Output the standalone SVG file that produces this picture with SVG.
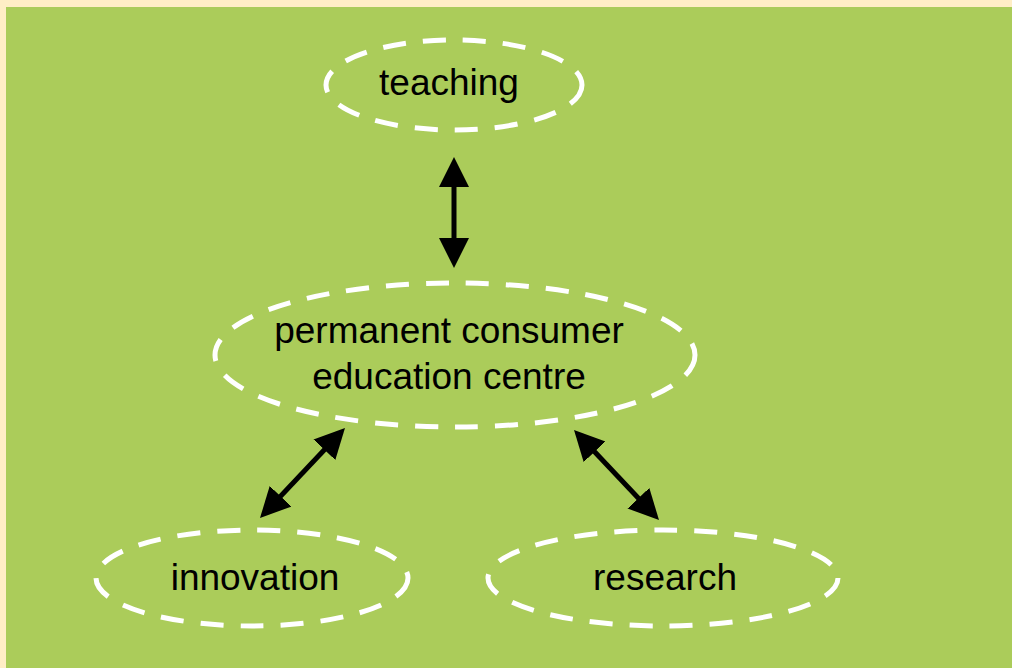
<svg xmlns="http://www.w3.org/2000/svg" width="1012" height="668" viewBox="0 0 1012 668">
<style>
.node ellipse{fill:none;stroke:#fff;stroke-width:5;stroke-dasharray:23 17}
.node text{font-family:"Liberation Sans",Arial,sans-serif;font-size:37px;fill:#000;text-anchor:middle}
.conn line{stroke:#000;stroke-width:5}
</style>
<defs>
<marker id="ah" markerUnits="userSpaceOnUse" markerWidth="32" markerHeight="32" refX="22" refY="15" orient="auto-start-reverse" viewBox="0 0 32 32">
<path d="M0,0 L30,15 L0,30 Z" fill="#000"/>
</marker>
</defs>
<rect x="0" y="0" width="1012" height="668" fill="#FFEEC6"/>
<rect x="6" y="7" width="1006" height="661" fill="#ABCC5A"/>
<g class="conn">
<line x1="454" y1="165" x2="454" y2="260" marker-start="url(#ah)" marker-end="url(#ah)"/>
<line x1="339.5" y1="433.8" x2="265.5" y2="512.2" marker-start="url(#ah)" marker-end="url(#ah)"/>
<line x1="579.5" y1="435.8" x2="653.5" y2="514.2" marker-start="url(#ah)" marker-end="url(#ah)"/>
</g>
<g id="teaching" class="node">
<ellipse cx="454" cy="85" rx="128" ry="45"/>
<text x="449" y="95">teaching</text>
</g>
<g id="centre" class="node">
<ellipse cx="455" cy="355" rx="240" ry="72"/>
<text x="449" y="343">permanent consumer</text>
<text x="449" y="389">education centre</text>
</g>
<g id="innovation" class="node">
<ellipse cx="252" cy="578" rx="156" ry="48"/>
<text x="255" y="590">innovation</text>
</g>
<g id="research" class="node">
<ellipse cx="663" cy="578" rx="175" ry="48"/>
<text x="665" y="590">research</text>
</g>
</svg>
